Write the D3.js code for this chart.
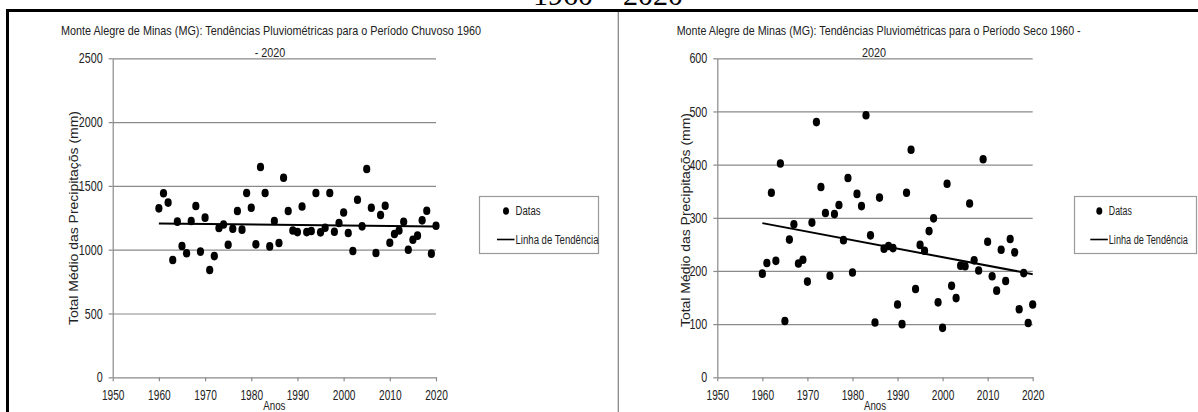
<!DOCTYPE html>
<html>
<head>
<meta charset="utf-8">
<script src="https://cdn.jsdelivr.net/npm/d3@7"></script>
<style>
  body { margin: 0; background: #fff; }
  text { font-family: "Liberation Sans", Arial, sans-serif; fill: #222; }
</style>
</head>
<body>
<div id="chart"></div>
<script>
// anos 1960 - 2020
var years = d3.range(1960, 2021);

// periodo chuvoso (mm)
var chuvoso = [1324, 1442, 1369, 919, 1220, 1029, 972, 1225, 1343, 985,
  1251, 841, 950, 1170, 1198, 1039, 1164, 1303, 1157, 1444,
  1329, 1042, 1648, 1444, 1026, 1225, 1052, 1564, 1303, 1151,
  1138, 1339, 1138, 1146, 1444, 1136, 1172, 1444, 1141, 1209,
  1292, 1131, 990, 1392, 1183, 1632, 1329, 974, 1272, 1345,
  1055, 1123, 1151, 1219, 1000, 1078, 1110, 1230, 1305, 969,
  1188];

// periodo seco (mm)
var seco = [195, 215, 347, 219, 402, 106, 259, 288, 214, 221,
  180, 291, 480, 358, 309, 191, 307, 324, 258, 375,
  197, 345, 322, 493, 267, 103, 338, 242, 247, 243,
  137, 100, 347, 428, 166, 249, 238, 275, 299, 141,
  93, 364, 172, 149, 210, 209, 327, 220, 201, 410,
  255, 190, 163, 240, 181, 260, 235, 128, 196, 102,
  137];

// linha de tendencia (valor em 1960, valor em 2020)
var trendChuvoso = [1206, 1182];
var trendSeco = [290, 194];

var xTicks = [1950, 1960, 1970, 1980, 1990, 2000, 2010, 2020];
var yTicksChuvoso = [0, 500, 1000, 1500, 2000, 2500];
var yTicksSeco = [0, 100, 200, 300, 400, 500, 600];

var titleChuvoso = ["Monte Alegre de Minas (MG): Tendências Pluviométricas para o Período Chuvoso 1960", "- 2020"];
var titleSeco = ["Monte Alegre de Minas (MG): Tendências Pluviométricas para o Período Seco 1960 -", "2020"];
var legendLabels = ["Datas", "Linha de Tendência"];
var yLabel = "Total Médio das Precipitaçõs (mm)";
var xLabel = "Anos";

var W = 1198, H = 412;
var svg = d3.select("#chart").append("svg")
    .attr("width", W)
    .attr("height", H);

// squeeze text horizontally (source picture is narrow)
function squeeze(sel, k) {
  sel.each(function() {
    var n = this.getComputedTextLength();
    d3.select(this).attr("textLength", n * k).attr("lengthAdjust", "spacingAndGlyphs");
  });
}
function fitTo(sel, w) {
  sel.attr("textLength", w).attr("lengthAdjust", "spacingAndGlyphs");
}

// caption of the figure, cut off at top
svg.append("text")
    .attr("x", 608).attr("y", 5)
    .attr("text-anchor", "middle")
    .style("font-family", "'Liberation Serif', 'Times New Roman', serif")
    .style("font-size", "30px")
    .style("fill", "#000")
    .text("1960 – 2020");

// table frame
svg.append("line").attr("x1", 6).attr("x2", W).attr("y1", 10.5).attr("y2", 10.5)
    .attr("stroke", "#000").attr("stroke-width", 3);
svg.append("line").attr("x1", 7.5).attr("x2", 7.5).attr("y1", 9).attr("y2", H)
    .attr("stroke", "#000").attr("stroke-width", 3);
svg.append("line").attr("x1", 618.3).attr("x2", 618.3).attr("y1", 12).attr("y2", H)
    .attr("stroke", "#888").attr("stroke-width", 1.3);

function plotPanel(cfg) {
  var x = d3.scaleLinear().domain([1950, 2020]).range(cfg.xRange),
      y = d3.scaleLinear().domain([0, cfg.yMax]).range([377.3, 58.3]);
  var g = svg.append("g");

  // grid
  g.append("g")
      .attr("transform", "translate(" + cfg.xRange[0] + ",0)")
      .call(d3.axisLeft(y).tickValues(cfg.yTicks.slice(1)).tickSize(-(cfg.xRange[1] - cfg.xRange[0])).tickFormat(""))
      .call(function(s) { s.select(".domain").remove(); })
      .selectAll("line").attr("stroke", "#bcbcbc").attr("stroke-width", 1.6);

  // y axis
  var ya = g.append("g")
      .attr("transform", "translate(" + cfg.xRange[0] + ",0)")
      .call(d3.axisLeft(y).tickValues(cfg.yTicks).tickFormat(d3.format("d")).tickSize(4).tickSizeOuter(0).tickPadding(6));
  ya.selectAll("text").style("font-size", "14.5px").style("fill", "#222").call(squeeze, 0.74);

  // x axis
  var xa = g.append("g")
      .attr("transform", "translate(0," + y(0) + ")")
      .call(d3.axisBottom(x).tickValues(xTicks).tickFormat(d3.format("d")).tickSize(4).tickSizeOuter(0).tickPadding(8));
  xa.selectAll("text").style("font-size", "14.5px").style("fill", "#222").call(squeeze, 0.7);

  g.selectAll(".domain, .tick line").attr("stroke", "#8a8a8a").attr("stroke-width", 1.2);

  // labels
  g.append("text")
      .attr("transform", "translate(" + cfg.yLabelX + "," + cfg.yLabelY + ") rotate(-90)")
      .attr("text-anchor", "middle")
      .style("font-size", "13px")
      .text(yLabel)
      .call(fitTo, 214);
  g.append("text")
      .attr("x", (cfg.xRange[0] + cfg.xRange[1]) / 2).attr("y", 409.5)
      .attr("text-anchor", "middle")
      .style("font-size", "12.5px")
      .text(xLabel)
      .call(squeeze, 0.78);

  // title
  g.append("text")
      .attr("x", cfg.titleX[0]).attr("y", 35)
      .attr("text-anchor", "middle")
      .style("font-size", "13.5px")
      .text(cfg.title[0])
      .call(fitTo, cfg.titleW[0]);
  g.append("text")
      .attr("x", cfg.titleX[1]).attr("y", 56.5)
      .attr("text-anchor", "middle")
      .style("font-size", "13.5px")
      .text(cfg.title[1])
      .call(squeeze, 0.8);

  // trend line
  g.append("line")
      .attr("x1", x(1960)).attr("y1", y(cfg.trend[0]))
      .attr("x2", x(2020)).attr("y2", y(cfg.trend[1]))
      .attr("stroke", "#000").attr("stroke-width", 2);

  // points
  g.selectAll(".dot")
      .data(cfg.values)
      .enter().append("ellipse")
      .attr("class", "dot")
      .attr("cx", function(d, i) { return x(years[i]); })
      .attr("cy", function(d) { return y(d); })
      .attr("rx", 3.6).attr("ry", 4.3)
      .attr("fill", "#000");

  // legend
  var lx = cfg.legend[0], ly = cfg.legend[1], m = cfg.legendMark;
  var lg = svg.append("g");
  lg.append("rect")
      .attr("x", lx + 0.5).attr("y", ly + 0.5)
      .attr("width", cfg.legendW).attr("height", 57)
      .attr("fill", "#fff").attr("stroke", "#9a9a9a").attr("stroke-width", 1.2);
  lg.append("ellipse")
      .attr("cx", m).attr("cy", ly + 15)
      .attr("rx", 3).attr("ry", 3.8).attr("fill", "#000");
  lg.append("line")
      .attr("x1", m - 9).attr("x2", m + 8.5)
      .attr("y1", ly + 43.5).attr("y2", ly + 43.5)
      .attr("stroke", "#000").attr("stroke-width", 1.6);
  lg.append("text")
      .attr("x", m + 9.5).attr("y", ly + 19)
      .style("font-size", "12.5px")
      .text(legendLabels[0])
      .call(fitTo, cfg.legendTxt[0]);
  lg.append("text")
      .attr("x", m + 9.5).attr("y", ly + 47.5)
      .style("font-size", "12.5px")
      .text(legendLabels[1])
      .call(fitTo, cfg.legendTxt[1]);
}

plotPanel({
  values: chuvoso, trend: trendChuvoso, yMax: 2500, yTicks: yTicksChuvoso,
  xRange: [112.7, 436], title: titleChuvoso, titleX: [271, 270], titleW: [420],
  yLabelX: 78, yLabelY: 218,
  legend: [479, 196], legendW: 119, legendMark: 506, legendTxt: [25, 83]
});

plotPanel({
  values: seco, trend: trendSeco, yMax: 600, yTicks: yTicksSeco,
  xRange: [717.3, 1032.7], title: titleSeco, titleX: [878.7, 874], titleW: [404],
  yLabelX: 690, yLabelY: 220,
  legend: [1074, 196], legendW: 122, legendMark: 1099.3, legendTxt: [23, 79]
});
</script>
</body>
</html>
